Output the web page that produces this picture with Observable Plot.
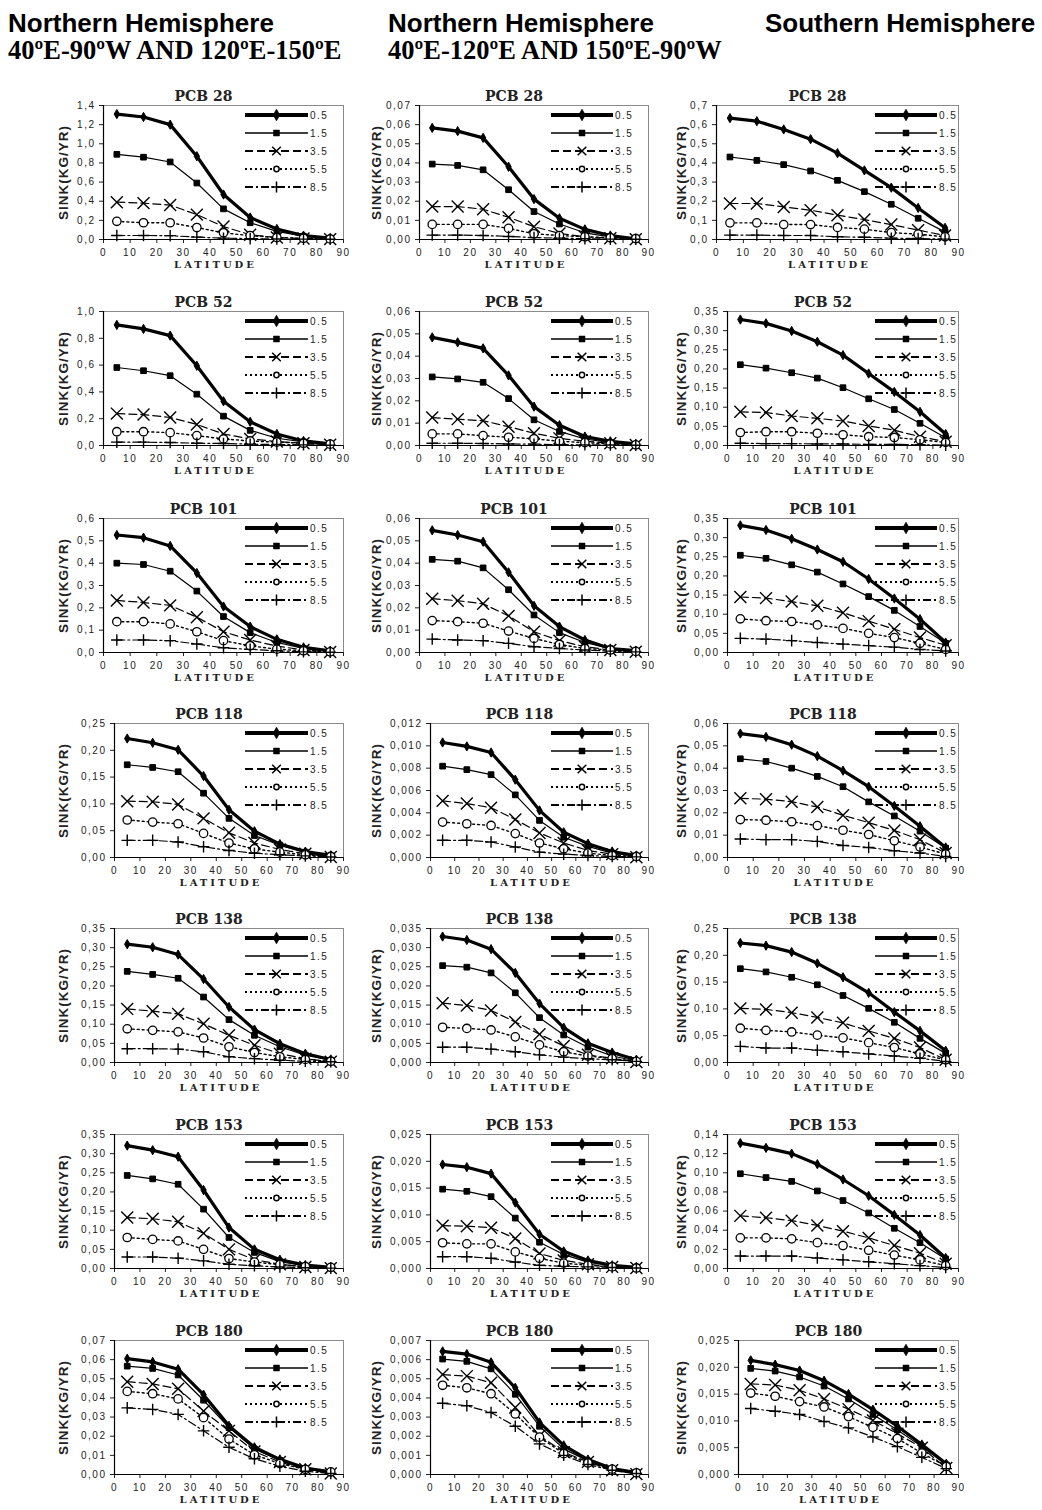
<!DOCTYPE html>
<html><head><meta charset="utf-8">
<script src="https://cdn.jsdelivr.net/npm/d3@7"></script>
<script src="https://cdn.jsdelivr.net/npm/@observablehq/plot@0.6"></script>
<style>
body{margin:0;background:#fff;}
#root{position:relative;width:1042px;height:1510px;overflow:hidden;background:#fff;}
.h1{position:absolute;font:bold 26px "Liberation Sans",Arial,sans-serif;line-height:26px;white-space:nowrap;color:#000;}
.h2{position:absolute;font:bold 26.5px "Liberation Serif","Times New Roman",serif;line-height:26px;white-space:nowrap;color:#000;}
.panel{position:absolute;}
</style></head><body><div id="root"></div>
<script>
// ---------- categories ----------
const latitudes = [5,15,25,35,45,55,65,75,85];
const depths = ["0.5","1.5","3.5","5.5","8.5"];
const congeners = ["PCB 28","PCB 52","PCB 101","PCB 118","PCB 138","PCB 153","PCB 180"];
const headers1 = ["Northern Hemisphere","Northern Hemisphere","Southern Hemisphere"];
const headers2 = ["40ºE-90ºW AND 120ºE-150ºE","40ºE-120ºE AND 150ºE-90ºW",""];
const xTicks = [0,10,20,30,40,50,60,70,80,90];
const yTitle = "SINK(KG/YR)";
const xTitle = "LATITUDE";

// ---------- y axis tops and steps per column ----------
const yMaxN1 = [1.4,1.0,0.6,0.25,0.35,0.35,0.07];
const stepN1 = [0.2,0.2,0.1,0.05,0.05,0.05,0.01];
const yMaxN2 = [0.07,0.06,0.06,0.012,0.035,0.025,0.007];
const stepN2 = [0.01,0.01,0.01,0.002,0.005,0.005,0.001];
const yMaxS = [0.7,0.35,0.35,0.06,0.25,0.14,0.025];
const stepS = [0.1,0.05,0.05,0.01,0.05,0.02,0.005];

// ---------- series values (rows: 0.5,1.5,3.5,5.5,8.5; cols: latitude 5..85) ----------
const pcb28_n1 = [
 [1.31,1.28,1.20,0.87,0.47,0.23,0.11,0.04,0.015],
 [0.89,0.86,0.81,0.59,0.32,0.175,0.085,0.035,0.01],
 [0.39,0.38,0.36,0.26,0.135,0.05,0.02,0.01,0.004],
 [0.19,0.175,0.175,0.125,0.07,0.04,0.02,0.012,0.006],
 [0.042,0.042,0.04,0.025,0.014,0.009,0.006,0.004,0.002]];
const pcb28_n2 = [
 [0.0583,0.0566,0.0531,0.038,0.0211,0.0111,0.0053,0.0021,0.0004],
 [0.0394,0.0387,0.0364,0.026,0.0146,0.0081,0.0035,0.0014,0.0003],
 [0.0172,0.0172,0.0158,0.0116,0.0067,0.0032,0.0014,0.0007,0.0001],
 [0.0079,0.0079,0.0079,0.0058,0.003,0.0021,0.0014,0.0009,0.0005],
 [0.0023,0.0023,0.0021,0.0016,0.001,0.0007,0.0004,0.0002,0.0001]];
const pcb28_s = [
 [0.634,0.618,0.575,0.524,0.451,0.361,0.271,0.165,0.061],
 [0.431,0.413,0.391,0.358,0.309,0.25,0.184,0.111,0.04],
 [0.188,0.188,0.17,0.153,0.127,0.104,0.078,0.049,0.021],
 [0.087,0.087,0.078,0.078,0.063,0.054,0.036,0.028,0.014],
 [0.023,0.023,0.021,0.021,0.014,0.012,0.007,0.005,0.002]];
const pcb52_n1 = [
 [0.90,0.87,0.82,0.595,0.33,0.177,0.086,0.034,0.012],
 [0.582,0.558,0.521,0.383,0.219,0.113,0.054,0.027,0.01],
 [0.238,0.231,0.209,0.157,0.086,0.049,0.03,0.017,0.005],
 [0.103,0.103,0.096,0.074,0.049,0.034,0.025,0.017,0.01],
 [0.025,0.025,0.022,0.017,0.015,0.01,0.007,0.005,0.002]];
const pcb52_n2 = [
 [0.0484,0.0462,0.0435,0.0314,0.0174,0.0091,0.004,0.0019,0.0007],
 [0.0307,0.0298,0.0283,0.021,0.0115,0.0063,0.0029,0.0013,0.0004],
 [0.0125,0.0118,0.0111,0.0084,0.0055,0.0032,0.0019,0.001,0.0002],
 [0.0052,0.0052,0.0044,0.0037,0.003,0.0019,0.0013,0.0007,0.0003],
 [0.001,0.001,0.0009,0.0007,0.0006,0.0004,0.0003,0.0002,0.0001]];
const pcb52_s = [
 [0.329,0.319,0.299,0.271,0.236,0.188,0.14,0.088,0.03],
 [0.211,0.202,0.19,0.176,0.151,0.122,0.094,0.058,0.02],
 [0.088,0.086,0.077,0.071,0.064,0.051,0.04,0.023,0.01],
 [0.034,0.036,0.036,0.032,0.028,0.023,0.021,0.015,0.008],
 [0.006,0.005,0.005,0.004,0.004,0.003,0.003,0.002,0.001]];
const pcb101_n1 = [
 [0.526,0.514,0.477,0.356,0.206,0.116,0.059,0.023,0.008],
 [0.4,0.394,0.364,0.275,0.161,0.089,0.045,0.018,0.005],
 [0.233,0.224,0.211,0.158,0.093,0.056,0.029,0.011,0.002],
 [0.138,0.138,0.128,0.093,0.053,0.03,0.015,0.008,0.003],
 [0.056,0.056,0.053,0.038,0.021,0.014,0.008,0.003,0.001]];
const pcb101_n2 = [
 [0.0547,0.0526,0.0496,0.0359,0.0209,0.0116,0.0056,0.0018,0.0008],
 [0.0417,0.0409,0.0379,0.0281,0.0168,0.0089,0.0045,0.0017,0.0006],
 [0.0241,0.0232,0.0218,0.0164,0.0093,0.0053,0.0026,0.0011,0.0003],
 [0.0143,0.0138,0.0131,0.0096,0.0063,0.0036,0.0018,0.0011,0.0005],
 [0.006,0.0056,0.0053,0.0041,0.0026,0.0018,0.0011,0.0006,0.0003]];
const pcb101_s = [
 [0.332,0.32,0.297,0.269,0.237,0.192,0.141,0.087,0.026],
 [0.254,0.246,0.229,0.21,0.179,0.146,0.11,0.068,0.024],
 [0.145,0.142,0.133,0.122,0.104,0.082,0.061,0.039,0.019],
 [0.088,0.083,0.081,0.072,0.063,0.05,0.039,0.024,0.008],
 [0.037,0.035,0.031,0.026,0.022,0.018,0.014,0.008,0.004]];
const pcb118_n1 = [
 [0.222,0.214,0.201,0.152,0.089,0.049,0.025,0.011,0.004],
 [0.173,0.168,0.16,0.12,0.073,0.041,0.023,0.01,0.003],
 [0.105,0.104,0.099,0.073,0.046,0.027,0.015,0.007,0.001],
 [0.07,0.066,0.063,0.045,0.027,0.016,0.01,0.005,0.002],
 [0.032,0.032,0.029,0.02,0.013,0.008,0.005,0.003,0.001]];
const pcb118_n2 = [
 [0.0103,0.00995,0.0094,0.00697,0.00422,0.00226,0.00124,0.00054,0.00018],
 [0.00818,0.00787,0.00742,0.00561,0.00332,0.00181,0.001,0.00039,0.00015],
 [0.00507,0.00483,0.00446,0.00341,0.0022,0.0013,0.00063,0.0003,0.00002],
 [0.00317,0.00302,0.00287,0.00214,0.0013,0.00078,0.00039,0.00018,0.00009],
 [0.00154,0.00154,0.00139,0.00094,0.00048,0.0003,0.00018,0.00009,0.00006]];
const pcb118_s = [
 [0.0555,0.054,0.0505,0.0454,0.0389,0.0317,0.0231,0.014,0.0045],
 [0.0442,0.043,0.04,0.0363,0.0317,0.0249,0.0186,0.0118,0.0042],
 [0.0265,0.0261,0.025,0.0226,0.0189,0.0156,0.0121,0.008,0.002],
 [0.017,0.0167,0.016,0.0143,0.0122,0.0103,0.0075,0.0047,0.0015],
 [0.0083,0.008,0.008,0.0072,0.0054,0.0045,0.003,0.002,0.0005]];
const pcb138_n1 = [
 [0.309,0.301,0.282,0.218,0.145,0.086,0.049,0.023,0.008],
 [0.238,0.23,0.22,0.171,0.112,0.071,0.041,0.019,0.006],
 [0.14,0.134,0.127,0.101,0.071,0.045,0.023,0.01,0.002],
 [0.088,0.084,0.08,0.064,0.041,0.026,0.015,0.008,0.003],
 [0.036,0.036,0.035,0.028,0.015,0.01,0.006,0.003,0.002]];
const pcb138_n2 = [
 [0.0329,0.032,0.0296,0.0234,0.0154,0.0091,0.005,0.0026,0.0007],
 [0.0253,0.0249,0.0234,0.0182,0.0117,0.0072,0.004,0.0017,0.0004],
 [0.0155,0.0149,0.0136,0.0106,0.0074,0.0043,0.002,0.0011,0.0001],
 [0.0092,0.0089,0.0085,0.0067,0.0046,0.0028,0.0017,0.001,0.0003],
 [0.004,0.004,0.0035,0.0028,0.002,0.0014,0.001,0.0007,0.0003]];
const pcb138_s = [
 [0.223,0.218,0.206,0.185,0.159,0.13,0.094,0.059,0.022],
 [0.175,0.169,0.159,0.145,0.125,0.101,0.075,0.045,0.017],
 [0.101,0.099,0.093,0.084,0.074,0.059,0.045,0.028,0.005],
 [0.064,0.06,0.057,0.051,0.046,0.037,0.028,0.016,0.005],
 [0.03,0.027,0.027,0.023,0.02,0.016,0.012,0.008,0.002]];
const pcb153_n1 = [
 [0.321,0.309,0.292,0.205,0.107,0.05,0.023,0.009,0.003],
 [0.243,0.234,0.22,0.155,0.081,0.042,0.018,0.007,0.002],
 [0.133,0.13,0.122,0.092,0.05,0.023,0.011,0.004,0.001],
 [0.081,0.076,0.072,0.05,0.026,0.017,0.01,0.005,0.003],
 [0.03,0.03,0.027,0.02,0.011,0.007,0.004,0.002,0.001]];
const pcb153_n2 = [
 [0.0194,0.0189,0.0177,0.0123,0.0064,0.0032,0.0015,0.0006,0.0002],
 [0.0148,0.0144,0.0134,0.0094,0.0049,0.0026,0.0012,0.0005,0.0001],
 [0.008,0.0079,0.0076,0.0056,0.0028,0.0015,0.0008,0.0003,0.0001],
 [0.0048,0.0046,0.0046,0.0031,0.0019,0.001,0.0006,0.0003,0.0001],
 [0.0022,0.0022,0.0019,0.0012,0.0006,0.0004,0.0003,0.0002,0.0001]];
const pcb153_s = [
 [0.131,0.126,0.12,0.109,0.093,0.076,0.056,0.035,0.011],
 [0.099,0.095,0.091,0.081,0.071,0.058,0.042,0.027,0.01],
 [0.055,0.053,0.05,0.045,0.039,0.032,0.024,0.016,0.005],
 [0.032,0.032,0.031,0.027,0.024,0.019,0.014,0.009,0.003],
 [0.013,0.013,0.013,0.011,0.009,0.007,0.005,0.003,0.001]];
const pcb180_n1 = [
 [0.0605,0.0588,0.055,0.0417,0.0254,0.0142,0.0079,0.0034,0.0014],
 [0.0566,0.0554,0.052,0.0388,0.0245,0.0134,0.0074,0.0031,0.001],
 [0.0485,0.0473,0.0448,0.0331,0.0228,0.012,0.0065,0.0027,0.0005],
 [0.0434,0.0422,0.0395,0.0297,0.0185,0.0103,0.0057,0.0027,0.0014],
 [0.0348,0.034,0.0314,0.0228,0.0142,0.0082,0.0043,0.0017,0.0005]];
const pcb180_n2 = [
 [0.00643,0.00629,0.00586,0.00453,0.00272,0.00152,0.00078,0.00031,0.0001],
 [0.00603,0.00591,0.00552,0.00419,0.00252,0.00134,0.00071,0.00028,0.00009],
 [0.00522,0.00514,0.00479,0.0035,0.00203,0.00117,0.00066,0.00022,0.00002],
 [0.00466,0.00453,0.00422,0.00316,0.00195,0.00109,0.0006,0.00028,0.00009],
 [0.00372,0.00359,0.00324,0.00252,0.0016,0.001,0.00052,0.00022,0.00005]];
const pcb180_s = [
 [0.0213,0.0205,0.0194,0.0175,0.015,0.0121,0.009,0.0056,0.002],
 [0.0198,0.0193,0.0182,0.0165,0.0141,0.0112,0.0083,0.0052,0.0018],
 [0.0169,0.0167,0.0157,0.0141,0.0122,0.0101,0.0076,0.005,0.0012],
 [0.0152,0.0146,0.0136,0.0126,0.0108,0.0088,0.0067,0.004,0.0015],
 [0.0123,0.0118,0.0112,0.0099,0.0087,0.007,0.0052,0.0032,0.0011]];

const seriesN1 = [pcb28_n1,pcb52_n1,pcb101_n1,pcb118_n1,pcb138_n1,pcb153_n1,pcb180_n1];
const seriesN2 = [pcb28_n2,pcb52_n2,pcb101_n2,pcb118_n2,pcb138_n2,pcb153_n2,pcb180_n2];
const seriesS  = [pcb28_s,pcb52_s,pcb101_s,pcb118_s,pcb138_s,pcb153_s,pcb180_s];

// ---------- layout / style ----------
const rowTops = [105, 311, 518, 723, 928, 1134, 1340];
const plotH = 134;
const svgLefts = [42, 356, 667];
const plotBases = [103, 408, 716];
const plotRights = [343, 648, 958];
const ylabelX = [63, 376, 681];
const legStart = [-98, -97, -83];
const legEnd = [-35, -35, -21];
const headerX = [8, 388, 765];

const styles = [
  {lw: 3.2, dash: null, sym: "diamond", r: 2.8, fill: "black", stroke: "black", sw: 1, lsym: d3.symbolDiamond, lsize: 40, legLw: 4},
  {lw: 1.2, dash: null, sym: "square", r: 3.2, fill: "black", stroke: "black", sw: 1, lsym: d3.symbolSquare, lsize: 36, legLw: 1.5},
  {lw: 1.2, dash: "8,4", sym: "times", r: 5.5, fill: "none", stroke: "black", sw: 1.4, lsym: d3.symbolTimes, lsize: 50, legLw: 2.2},
  {lw: 1.4, dash: "2,3", sym: "circle", r: 4.2, fill: "white", stroke: "black", sw: 1.3, lsym: d3.symbolCircle, lsize: 22, legLw: 2.2},
  {lw: 1.2, dash: "8,3,2,3", sym: "plus", r: 3.8, fill: "none", stroke: "black", sw: 1.4, lsym: d3.symbolPlus, lsize: 40, legLw: 2.2}
];

const root = document.getElementById("root");
headers1.forEach((h, i) => {
  const d = document.createElement("div"); d.className = "h1"; d.textContent = h;
  d.style.left = headerX[i] + "px"; d.style.top = "10px"; root.appendChild(d);
});
headers2.forEach((h, i) => {
  if (!h) return;
  const d = document.createElement("div"); d.className = "h2"; d.textContent = h;
  d.style.left = headerX[i] + "px"; d.style.top = "37px"; root.appendChild(d);
});

const decimals = step => Math.max(0, -Math.floor(Math.log10(step) + 1e-9));
const fmt = (v, d) => v.toFixed(d).replace(".", ",");

function panel(title, series, yMax, step, col, row) {
  const dec = decimals(step);
  const n = Math.round(yMax / step);
  const yTicks = d3.range(0, n + 1).map(i => +(i * step).toFixed(6));
  const topLabel = fmt(yMax, dec);
  const plotLeft = plotBases[col] + 11 * (topLabel.length - 3);
  const svgLeft = svgLefts[col];
  const marginLeft = plotLeft - svgLeft;
  const marginRight = 24, marginTop = 26, marginBottom = 40;
  const width = plotRights[col] - svgLeft + marginRight;
  const height = marginTop + plotH + marginBottom;
  const data = series.flatMap((vals, i) => vals.map((v, j) => ({lat: latitudes[j], sink: v, depth: depths[i]})));

  const marks = [
    Plot.frame({stroke: "#8a8a8a", strokeWidth: 1}),
    Plot.axisX({ticks: xTicks, tickSize: 4, tickPadding: 5, label: null, tickFormat: d => String(d)}),
    Plot.axisY({ticks: yTicks, tickSize: 4, tickPadding: 4, label: null, tickFormat: d => fmt(d, dec)}),
    Plot.ruleY([0], {stroke: "black", strokeWidth: 1.2}),
    Plot.ruleX([0], {stroke: "black", strokeWidth: 1.2})
  ];
  styles.forEach((s, i) => {
    const d = data.filter(r => r.depth === depths[i]);
    marks.push(Plot.line(d, {x: "lat", y: "sink", stroke: "black", strokeWidth: s.lw, strokeDasharray: s.dash}));
  });
  styles.forEach((s, i) => {
    const d = data.filter(r => r.depth === depths[i]);
    marks.push(Plot.dot(d, {x: "lat", y: "sink", symbol: () => s.sym, r: s.r, fill: s.fill, stroke: s.stroke, strokeWidth: s.sw}));
  });
  marks.push(Plot.text([title], {text: d => d, frameAnchor: "top", dy: -14, dx: -20, fontWeight: "bold", fontSize: 14, fontFamily: "DejaVu Serif, serif"}));
  marks.push(Plot.text([xTitle], {text: d => d, frameAnchor: "bottom", dy: 28, dx: -8, fontWeight: "bold", fontSize: 10, fontFamily: "DejaVu Serif, serif"}));
  marks.push(Plot.text([yTitle], {text: d => d, frameAnchor: "left", textAnchor: "middle", dx: (ylabelX[col] - svgLeft) - marginLeft, rotate: -90, fontWeight: "bold", fontSize: 13.5, fontFamily: "Liberation Sans, Arial, sans-serif"}));

  const svg = Plot.plot({
    width, height, marginLeft, marginRight, marginTop, marginBottom,
    x: {domain: [0, 90]},
    y: {domain: [0, yMax]},
    style: {fontFamily: "Liberation Sans, Arial, sans-serif", fontSize: "10px", color: "#222", background: "transparent", overflow: "visible"},
    marks
  });
  const sel = d3.select(svg);
  sel.selectAll('g[aria-label="x-axis tick label"] text, g[aria-label="y-axis tick label"] text').attr("letter-spacing", "1.5");
  sel.selectAll("text").filter(function(){ return this.textContent === xTitle; }).attr("letter-spacing", "3");
  sel.selectAll("text").filter(function(){ return this.textContent === yTitle; }).attr("letter-spacing", "1");

  // legend (no fill: data lines stay visible, as in the reference)
  const pr = width - marginRight;
  const x0 = pr + legStart[col], x1 = pr + legEnd[col];
  const g = sel.append("g").attr("class", "legend");
  styles.forEach((s, i) => {
    const y = marginTop + 10 + 18 * i;
    g.append("line").attr("x1", x0).attr("x2", x1).attr("y1", y).attr("y2", y)
      .attr("stroke", "black").attr("stroke-width", s.legLw).attr("stroke-dasharray", s.dash);
    const isFill = (s.fill === "black");
    g.append("path").attr("d", d3.symbol(s.lsym, s.lsize)()).attr("transform", `translate(${(x0 + x1) / 2},${y})`)
      .attr("fill", isFill ? "black" : (s.fill === "white" ? "white" : "none"))
      .attr("stroke", "black").attr("stroke-width", isFill ? 0.5 : 1.5);
    g.append("text").attr("x", x1 + 2).attr("y", y).attr("dy", "0.35em").attr("font-size", 10)
      .attr("text-anchor", "start").attr("letter-spacing", "1.5").attr("fill", "#222").text(depths[i]);
  });

  const wrap = document.createElement("div");
  wrap.className = "panel";
  wrap.style.left = svgLeft + "px";
  wrap.style.top = (rowTops[row] - marginTop) + "px";
  wrap.appendChild(svg);
  root.appendChild(wrap);
}

congeners.forEach((c, row) => {
  panel(c, seriesN1[row], yMaxN1[row], stepN1[row], 0, row);
  panel(c, seriesN2[row], yMaxN2[row], stepN2[row], 1, row);
  panel(c, seriesS[row], yMaxS[row], stepS[row], 2, row);
});
</script></body></html>
